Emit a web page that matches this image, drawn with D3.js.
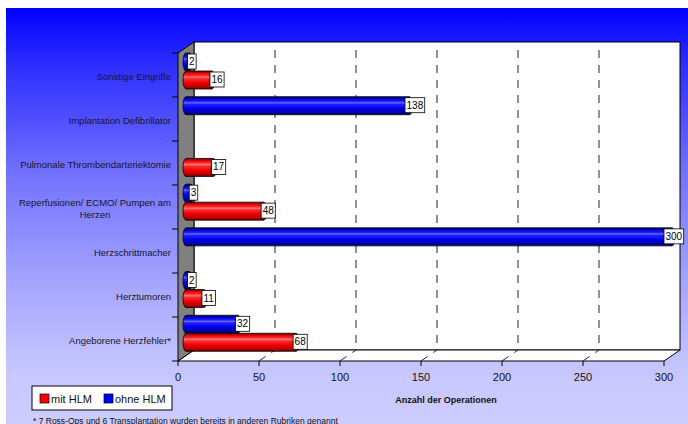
<!DOCTYPE html>
<html>
<head>
<meta charset="utf-8">
<script src="https://cdn.jsdelivr.net/npm/d3@7/dist/d3.min.js"></script>
<style>
  html, body { margin: 0; padding: 0; background: #fff; }
  svg { display: block; font-family: "Liberation Sans", Arial, sans-serif; }
</style>
</head>
<body>
<svg id="chart" width="688" height="424"></svg>
<script>
// Operations by category, split by with / without heart-lung machine (HLM)
const categories = [
  "Sonstige Eingriffe",
  "Implantation Defibrillator",
  "Pulmonale Thrombendarteriektomie",
  "Reperfusionen/ ECMO/ Pumpen am Herzen",
  "Herzschrittmacher",
  "Herztumoren",
  "Angeborene Herzfehler*"
];
const ohneHLM = [2, 138, 0, 3, 300, 2, 32];
const mitHLM  = [16, 0, 17, 48, 0, 11, 68];
const seriesNames = ["mit HLM", "ohne HLM"];
const xTicks = [0, 50, 100, 150, 200, 250, 300];
const axisTitle = "Anzahl der Operationen";
const footnote = "* 7 Ross-Ops und 6 Transplantation wurden bereits in anderen Rubriken genannt";

const svg = d3.select("#chart");
const defs = svg.append("defs");

// page background gradient
const bg = defs.append("linearGradient").attr("id", "bg")
  .attr("x1", 0).attr("y1", 0).attr("x2", 0).attr("y2", 1);
[[0, 0], [0.125, 42], [0.39, 112], [0.68, 168], [0.89, 200], [1, 204]].forEach(([o, v]) =>
  bg.append("stop").attr("offset", o).attr("stop-color", d3.rgb(v, v, 255)));
svg.append("rect").attr("x", 6).attr("y", 8).attr("width", 682).attr("height", 416)
  .attr("fill", "url(#bg)");

// cylinder shading
function cylGrad(id, stops) {
  const g = defs.append("linearGradient").attr("id", id)
    .attr("x1", 0).attr("y1", 0).attr("x2", 0).attr("y2", 1);
  stops.forEach(([o, c]) => g.append("stop").attr("offset", o).attr("stop-color", c));
}
cylGrad("cylRed", [[0, "#7a0000"], [0.1, "#d80000"], [0.25, "#ff2a2a"], [0.34, "#ff7a7a"],
  [0.42, "#ff3030"], [0.65, "#f00000"], [0.85, "#c00000"], [1, "#6a0000"]]);
cylGrad("cylBlue", [[0, "#00005a"], [0.1, "#0000c8"], [0.25, "#1a1aff"], [0.34, "#6a6aff"],
  [0.42, "#2222ff"], [0.65, "#0000ee"], [0.85, "#0000b0"], [1, "#000060"]]);

// 3D frame geometry
const dx = 16, dy = -11;
const x = d3.scaleLinear().domain([0, 300]).range([178, 664]);
const y = d3.scaleBand().domain(categories).range([53, 361]);
const yTop = 53, yBot = 361;
const xL = x(0), xR = x(300);

// back wall
svg.append("rect")
  .attr("x", xL + dx).attr("y", yTop + dy)
  .attr("width", xR - xL).attr("height", yBot - yTop)
  .attr("fill", "#fff").attr("stroke", "#000").attr("stroke-width", 1);

// floor
svg.append("polygon")
  .attr("points", [[xL, yBot], [xR, yBot], [xR + dx, yBot + dy], [xL + dx, yBot + dy]].join(" "))
  .attr("fill", "#fff").attr("stroke", "#000").attr("stroke-width", 1);

// gridlines on back wall and floor
const grid = svg.append("g").attr("stroke", "#222").attr("stroke-width", 1)
  .attr("stroke-dasharray", "8,7");
xTicks.filter(v => v > 0 && v < 300).forEach(v => {
  grid.append("line")
    .attr("x1", x(v) + dx).attr("x2", x(v) + dx)
    .attr("y1", yTop + dy + 8).attr("y2", yBot + dy);
  grid.append("line")
    .attr("x1", x(v)).attr("y1", yBot)
    .attr("x2", x(v) + dx).attr("y2", yBot + dy);
});

// left side wall
svg.append("polygon")
  .attr("points", [[xL, yTop], [xL + dx, yTop + dy], [xL + dx, yBot + dy], [xL, yBot]].join(" "))
  .attr("fill", "#808080").attr("stroke", "#000").attr("stroke-width", 1);

// x axis ticks and labels
const xAxis = svg.append("g");
xTicks.forEach(v => {
  xAxis.append("line").attr("x1", x(v)).attr("x2", x(v))
    .attr("y1", yBot).attr("y2", yBot + 5).attr("stroke", "#000");
  xAxis.append("text").attr("x", x(v)).attr("y", 381)
    .attr("text-anchor", "middle").attr("font-size", 11).attr("fill", "#111").text(v);
});

// y axis ticks at band boundaries
const yBounds = categories.map(c => y(c)).concat([yBot]);
yBounds.forEach(b => {
  svg.append("line").attr("x1", xL - 6).attr("x2", xL)
    .attr("y1", b).attr("y2", b).attr("stroke", "#000");
});

// category labels
const catG = svg.append("g").attr("font-size", 9.5).attr("fill", "#15152a");
const labelX = 171;
categories.forEach(c => {
  const cy = y(c) + y.bandwidth() / 2;
  if (c.startsWith("Reperfusionen")) {
    const l1 = catG.append("text").attr("x", labelX).attr("y", cy - 1)
      .attr("text-anchor", "end").text("Reperfusionen/ ECMO/ Pumpen am");
    const w = l1.node().getComputedTextLength();
    catG.append("text").attr("x", labelX - w / 2).attr("y", cy + 10.5)
      .attr("text-anchor", "middle").text("Herzen");
  } else {
    catG.append("text").attr("x", labelX).attr("y", cy + 5)
      .attr("text-anchor", "end").text(c);
  }
});

// bars drawn as horizontal cylinders at mid depth
const xBar = d3.scaleLinear().domain([0, 300]).range([x(0) + dx / 2, x(300) + dx / 2]);
const yBar = d3.scaleBand().domain(categories).range([50, 356]);
const xLab = d3.scaleLinear().domain([0, 300]).range([184.4, 664]);
const barH = 18, rx = 3;

function cylinder(g, x0, x1, top, fill) {
  const h = barH, bottom = top + h;
  g.append("path")
    .attr("d", `M${x0},${top} L${x1},${top} A${rx},${h / 2} 0 0 1 ${x1},${bottom} ` +
               `L${x0},${bottom} A${rx},${h / 2} 0 0 1 ${x0},${top} Z`)
    .attr("fill", `url(#${fill})`).attr("stroke", "#000").attr("stroke-width", 0.8);
  g.append("ellipse").attr("cx", x1).attr("cy", top + h / 2)
    .attr("rx", rx).attr("ry", h / 2)
    .attr("fill", "none").attr("stroke", "#000").attr("stroke-opacity", 0.35).attr("stroke-width", 0.6);
}

const bars = svg.append("g");
const labels = svg.append("g");
const rows = [
  { values: ohneHLM, offset: 3, fill: "cylBlue" },
  { values: mitHLM, offset: 21, fill: "cylRed" }
];
categories.forEach((c, i) => {
  rows.forEach(r => {
    const v = r.values[i];
    if (!v) return;
    const top = yBar(c) + r.offset;
    cylinder(bars, xBar(0), xBar(v), top, r.fill);
    const lg = labels.append("g");
    const t = lg.append("text").attr("x", 0).attr("y", top + 12)
      .attr("font-size", 10).attr("fill", "#000").text(v);
    const w = t.node().getComputedTextLength() + 3;
    const bx = xLab(v);
    t.attr("x", bx + w / 2).attr("text-anchor", "middle");
    lg.insert("rect", "text").attr("x", bx).attr("y", top + 1)
      .attr("width", w).attr("height", 15)
      .attr("fill", "#fff").attr("stroke", "#000").attr("stroke-width", 0.8);
  });
});

// legend
const leg = svg.append("g");
leg.append("rect").attr("x", 32).attr("y", 386).attr("width", 140).attr("height", 24)
  .attr("fill", "#fff").attr("stroke", "#000").attr("stroke-width", 1);
const legColors = ["#ff0000", "#0000ff"];
const legX = [40, 104];
seriesNames.forEach((n, i) => {
  leg.append("rect").attr("x", legX[i]).attr("y", 394).attr("width", 9).attr("height", 9)
    .attr("fill", legColors[i]).attr("stroke", "#000").attr("stroke-width", 0.7);
  leg.append("text").attr("x", legX[i] + 11).attr("y", 403)
    .attr("font-size", 11).attr("fill", "#111").text(n);
});

// axis title and footnote
svg.append("text").attr("x", 446).attr("y", 403).attr("text-anchor", "middle")
  .attr("font-size", 9).attr("font-weight", "bold").attr("fill", "#111").text(axisTitle);
svg.append("text").attr("x", 33).attr("y", 423.5)
  .attr("font-size", 8.5).attr("fill", "#111").text(footnote);
</script>
</body>
</html>
